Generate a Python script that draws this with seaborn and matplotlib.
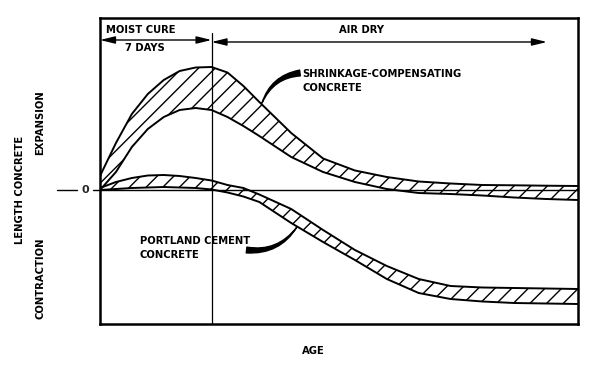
import numpy as np
import pandas as pd
import matplotlib
matplotlib.use("Agg")
import matplotlib.pyplot as plt
import seaborn as sns

# ---- data (age in days, length change in arbitrary units) ----
age = [0, 1, 2, 3, 4, 5, 6, 7, 8, 9, 10, 12, 14, 16, 18, 20, 22, 24, 26, 28, 30]
shrink_upper = [1.4, 4.7, 7.6, 9.6, 11.0, 11.9, 12.25, 12.3, 11.75, 10.4, 8.8, 5.7,
                3.15, 1.95, 1.3, 0.85, 0.65, 0.5, 0.47, 0.43, 0.4]
shrink_lower = [0.0, 1.8, 4.3, 6.1, 7.3, 8.0, 8.2, 8.0, 7.3, 6.4, 5.4, 3.3,
                1.8, 0.8, 0.1, -0.3, -0.4, -0.55, -0.75, -0.9, -1.0]
portland_upper = [0.2, 0.8, 1.2, 1.45, 1.5, 1.4, 1.2, 0.95, 0.5, 0.2, -0.45, -1.9,
                  -4.0, -6.0, -7.6, -8.9, -9.6, -9.75, -9.8, -9.85, -9.9]
portland_lower = [0.0, 0.1, 0.2, 0.25, 0.3, 0.25, 0.2, 0.05, -0.25, -0.65, -1.2, -3.3,
                  -5.2, -7.0, -8.9, -10.3, -10.9, -11.15, -11.3, -11.35, -11.4]
moist_cure_days = 7
air_dry_end = 28.05
x_max = 30
y_min, y_max = -13.4, 17.2

sns.set_theme(style="white")
plt.rcParams['font.family'] = ['DejaVu Sans']
plt.rcParams['hatch.linewidth'] = 1.0
plt.rcParams['hatch.color'] = 'black'

fig = plt.figure(figsize=(6.04, 3.66), dpi=100)
ax = fig.add_axes([100/604, 1-324/366, 478/604, 306/366])

df = pd.DataFrame({"age": age, "su": shrink_upper, "sl": shrink_lower,
                   "pu": portland_upper, "pl": portland_lower})

ax.fill_between(df["age"], df["sl"], df["su"], facecolor="white", edgecolor="black",
                hatch="//", linewidth=0)
ax.fill_between(df["age"], df["pl"], df["pu"], facecolor="white", edgecolor="black",
                hatch="//", linewidth=0)
for col in ["su", "sl", "pu", "pl"]:
    sns.lineplot(data=df, x="age", y=col, color="black", linewidth=1.4, ax=ax)

ax.set_xlim(0, x_max)
ax.set_ylim(y_min, y_max)
ax.set_xticks([])
ax.set_yticks([])
ax.set_xlabel("")
ax.set_ylabel("")
for s in ax.spines.values():
    s.set_color("black")
    s.set_linewidth(1.8)

# zero line extending left of the axes
ytr = ax.get_yaxis_transform()
ax.plot([-0.015, 1.0], [0, 0], color="black", lw=1.0, transform=ytr, clip_on=False, zorder=1)
ax.plot([-0.09, -0.048], [0, 0], color="black", lw=1.0, transform=ytr, clip_on=False)
ax.text(-0.031, 0, "0", transform=ytr, ha="center", va="center", fontsize=8, fontweight="bold")

# 7-day vertical line
ax.plot([moist_cure_days, moist_cure_days], [y_min, 15.7], color="black", lw=0.9)

# arrows
ap = dict(arrowstyle="<|-|>,head_length=0.9,head_width=0.22", color="black", lw=1.0,
          shrinkA=0, shrinkB=0, mutation_scale=10)
ax.annotate("", xy=(0, 15.0), xytext=(moist_cure_days, 15.0), arrowprops=ap)
ax.annotate("", xy=(moist_cure_days, 14.8), xytext=(air_dry_end, 14.8), arrowprops=ap)

tk = dict(fontsize=7.2, fontweight="bold", color="black")
ax.text(0.4, 16.0, "MOIST CURE", ha="left", va="center", **tk)
ax.text(1.6, 14.2, "7 DAYS", ha="left", va="center", **tk)
ax.text(16.4, 16.0, "AIR DRY", ha="center", va="center", **tk)
ax.text(12.7, 10.9, "SHRINKAGE-COMPENSATING\nCONCRETE", ha="left", va="center",
        linespacing=1.45, **tk)
ax.text(2.5, -5.8, "PORTLAND CEMENT\nCONCRETE", ha="left", va="center",
        linespacing=1.45, **tk)

# leaders (thin at the band, thick at the label)
wedge = dict(arrowstyle="wedge,tail_width=0.42,shrink_factor=0.5", color="black",
             connectionstyle="arc3,rad=0.3", shrinkA=0, shrinkB=0, mutation_scale=10)
ax.annotate("", xy=(10.17, 8.7), xytext=(12.55, 11.7), arrowprops=wedge)
ax.annotate("", xy=(12.36, -3.7), xytext=(9.2, -6.0), arrowprops=wedge)

# axis labels
fig.text(313/604, 1-351/366, "AGE", ha="center", va="center", **tk)
fig.text(20/604, 1-190/366, "LENGTH CONCRETE", rotation=90, ha="center", va="center", **tk)
fig.text(40/604, 1-123/366, "EXPANSION", rotation=90, ha="center", va="center", **tk)
fig.text(40/604, 1-278/366, "CONTRACTION", rotation=90, ha="center", va="center", **tk)

fig.savefig("out.png", dpi=100, facecolor="white")
